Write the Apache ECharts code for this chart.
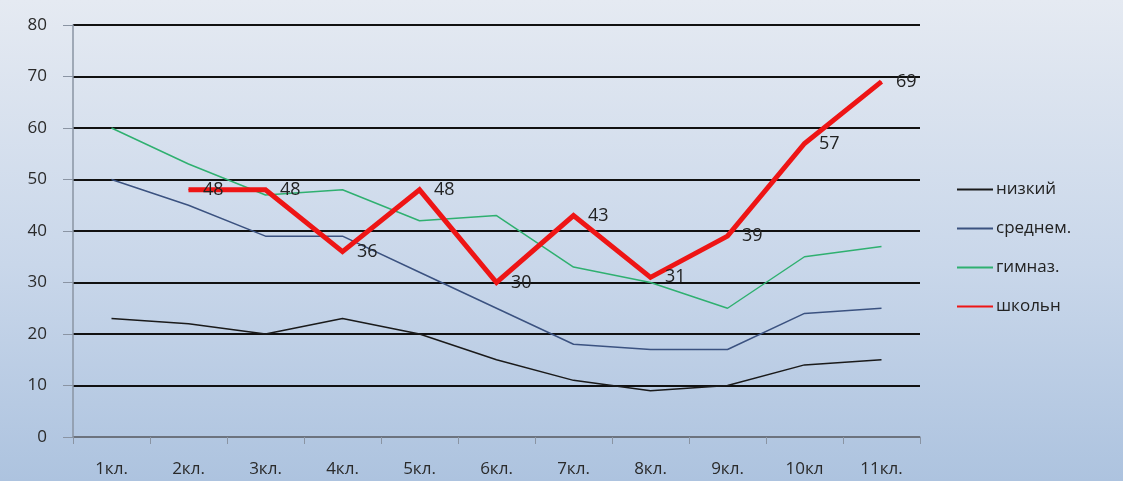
<!DOCTYPE html>
<html>
<head>
<meta charset="utf-8">
<script src="https://cdn.jsdelivr.net/npm/echarts@6/dist/echarts.min.js"></script>
<style>
html,body{margin:0;padding:0;}
#chart{width:1123px;height:481px;background:linear-gradient(to bottom,#e5eaf2 0%,#c9d7ea 55%,#adc3df 100%);}
</style>
</head>
<body>
<div id="chart"></div>
<script>
const categories = ['1кл.','2кл.','3кл.','4кл.','5кл.','6кл.','7кл.','8кл.','9кл.','10кл','11кл.'];
const nizkiy   = [23, 22, 20, 23, 20, 15, 11, 9, 10, 14, 15];
const srednem  = [50, 45, 39, 39, 32, 25, 18, 17, 17, 24, 25];
const gimnaz   = [60, 53, 47, 48, 42, 43, 33, 30, 25, 35, 37];
const shkoln   = [null, 48, 48, 36, 48, 30, 43, 31, 39, 57, 69];
const yTicks = {min: 0, max: 80, interval: 10};

const font = 'Open Sans';
const chart = echarts.init(document.getElementById('chart'), null, {renderer: 'canvas'});
chart.setOption({
  backgroundColor: 'transparent',
  animation: false,
  grid: {left: 73, right: 203, top: 25, bottom: 44, containLabel: false},
  legend: {
    orient: 'vertical',
    left: 951,
    top: 176,
    itemWidth: 36,
    itemHeight: 14,
    itemGap: 22,
    itemStyle: {opacity: 0},
    textStyle: {fontFamily: font, fontSize: 17, color: '#222', padding: [0,0,0,-2]},
    data: ['низкий','среднем.','гимназ.','школьн']
  },
  xAxis: {
    type: 'category',
    data: categories,
    boundaryGap: true,
    axisLine: {lineStyle: {color: '#8a94a3', width: 1.5}},
    axisTick: {show: true, length: 7, lineStyle: {color: '#8a94a3'}},
    axisLabel: {fontFamily: font, fontSize: 17, color: '#2a2a2a', margin: 24}
  },
  yAxis: {
    type: 'value',
    min: yTicks.min, max: yTicks.max, interval: yTicks.interval,
    axisLine: {show: true, lineStyle: {color: '#8a94a3', width: 1.5}},
    axisTick: {show: true, length: 10, lineStyle: {color: '#8a94a3'}},
    axisLabel: {fontFamily: font, fontSize: 17, color: '#2a2a2a', margin: 26},
    splitLine: {lineStyle: {color: '#111', width: 2}}
  },
  series: [
    {name: 'низкий', type: 'line', data: nizkiy, symbol: 'none',
     lineStyle: {color: '#1a1a1a', width: 1.5}, itemStyle: {color: '#1a1a1a'}},
    {name: 'среднем.', type: 'line', data: srednem, symbol: 'none',
     lineStyle: {color: '#3b5280', width: 1.5}, itemStyle: {color: '#3b5280'}},
    {name: 'гимназ.', type: 'line', data: gimnaz, symbol: 'none',
     lineStyle: {color: '#2fb070', width: 1.5}, itemStyle: {color: '#2fb070'}},
    {name: 'школьн', type: 'line', data: shkoln, symbol: 'circle', symbolSize: 1, showSymbol: true,
     connectNulls: false,
     lineStyle: {color: '#ee1515', width: 5, join: 'miter'}, itemStyle: {color: '#ee1515'},
     label: {show: true, position: 'right', distance: 14, fontFamily: font, fontSize: 18, color: '#222'}}
  ]
});
</script>
</body>
</html>
